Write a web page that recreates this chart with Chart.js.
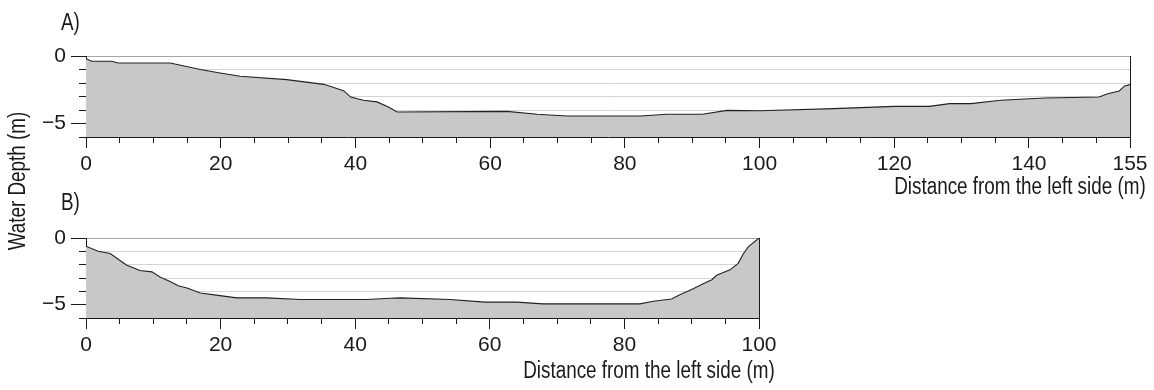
<!DOCTYPE html>
<html>
<head>
<meta charset="utf-8">
<script src="https://cdn.jsdelivr.net/npm/chart.js@4.4.0/dist/chart.umd.min.js"></script>
<style>
  html, body { margin: 0; padding: 0; background: #fff; }
  #wrap { position: relative; width: 1154px; height: 390px; }
  canvas { position: absolute; left: 0; top: 0; }
</style>
</head>
<body>
<div id="wrap">
  <canvas id="chartA" width="1154" height="390"></canvas>
  <canvas id="chartB" width="1154" height="390"></canvas>
</div>
<script>
// profile A: distance (m) and water depth (m)
var distA = [0, 0.85, 3.8, 4.8, 12.5, 17, 19.9, 22.9, 29.8, 35.3, 36.8, 38.3, 39.3, 41.2, 43.2, 44.9, 46.2,
  62.5, 67, 71.4, 82.3, 86.3, 91.5, 95.2, 100.1, 111, 120, 125.2, 128.2, 131.4, 135.8, 142.3, 150.4,
  151.7, 153.4, 154.2, 155];
var depthA = [-0.2, -0.39, -0.39, -0.52, -0.52, -1.0, -1.26, -1.5, -1.75, -2.1, -2.34, -2.59, -3.04, -3.28, -3.4, -3.78, -4.15,
  -4.1, -4.32, -4.44, -4.44, -4.32, -4.32, -4.03, -4.05, -3.9, -3.73, -3.73, -3.53, -3.53, -3.28, -3.11, -3.04,
  -2.79, -2.59, -2.22, -2.12];

// profile B
var distB = [0, 1.8, 3.6, 6.0, 8.0, 9.8, 11.0, 12.5, 13.7, 15, 17, 19.9, 22.4, 26.9, 31.8, 41.7, 45.2, 46.7,
  54.1, 59.3, 64, 67.9, 82.3, 84.3, 87, 88.3, 90.0, 91.7, 93.0, 93.7, 95.7, 96.9, 97.7, 98.4, 100];
var depthB = [-0.61, -0.99, -1.16, -2.02, -2.44, -2.54, -2.93, -3.26, -3.58, -3.75, -4.12, -4.32, -4.49, -4.49, -4.61, -4.61, -4.52, -4.49,
  -4.61, -4.81, -4.81, -4.94, -4.94, -4.74, -4.57, -4.24, -3.87, -3.43, -3.13, -2.8, -2.39, -1.9, -1.16, -0.67, 0];

var xLabelsA = [0, 20, 40, 60, 80, 100, 120, 140, 155];
var xLabelsB = [0, 20, 40, 60, 80, 100];
var yLabels = [0, -5];

var xTitle = 'Distance from the left side (m)';
var yTitle = 'Water Depth (m)';

// the original uses a narrow face; fake it with a horizontal squeeze where we draw text ourselves
function hasFont(name) {
  var c = document.createElement('canvas').getContext('2d');
  var s = 'Distance from the left side';
  c.font = '40px monospace';
  var w1 = c.measureText(s).width;
  c.font = '40px "' + name + '", monospace';
  return c.measureText(s).width !== w1;
}
var narrow = hasFont('Liberation Sans Narrow');
var family = narrow ? '"Liberation Sans Narrow", "Liberation Sans", Arial, sans-serif' : '"Liberation Sans", Arial, sans-serif';
var squeeze = narrow ? 1 : 0.82;
var tickSize = narrow ? 23 : 21;
var textSize = 23;

var ink = '#1a1a1a';

function squeezedText(ctx, str, x, y, align) {
  var w = ctx.measureText(str).width * squeeze;
  var left = align === 'right' ? x - w : (align === 'center' ? x - w / 2 : x);
  ctx.save();
  ctx.translate(left, y);
  ctx.scale(squeeze, 1);
  ctx.textAlign = 'left';
  ctx.fillText(str, 0, 0);
  ctx.restore();
}

var panelText = {
  id: 'panelText',
  afterDraw: function(chart, args, opts) {
    var ctx = chart.ctx;
    ctx.save();
    ctx.fillStyle = ink;
    ctx.textBaseline = 'middle';
    // right end of the last tick label (at the original narrow width), to line the axis title up with it
    ctx.font = textSize + 'px ' + family;
    var right = chart.scales.x.getPixelForValue(opts.lastLabel) + ctx.measureText(String(opts.lastLabel)).width * squeeze / 2;
    squeezedText(ctx, opts.letter, 61, opts.letterY, 'left');
    squeezedText(ctx, xTitle, right, opts.titleY, 'right');
    if (opts.showY) {
      ctx.translate(19, 181);
      ctx.rotate(-Math.PI / 2);
      squeezedText(ctx, yTitle, 0, 0, 'center');
    }
    ctx.restore();
  }
};

function makeChart(id, dist, depth, xMax, xLabels, padding, text) {
  var points = dist.map(function(d, i) { return {x: d, y: depth[i]}; });
  return new Chart(document.getElementById(id), {
    type: 'line',
    data: {
      datasets: [{
        data: points,
        xAxisID: 'x',
        yAxisID: 'y',
        fill: 'start',
        backgroundColor: '#c8c8c8',
        borderColor: '#222',
        borderWidth: 1.1,
        pointRadius: 0,
        tension: 0
      }]
    },
    options: {
      responsive: false,
      animation: false,
      devicePixelRatio: 1,
      layout: { padding: padding },
      plugins: {
        legend: { display: false },
        tooltip: { enabled: false },
        panelText: text
      },
      scales: {
        x: {
          type: 'linear', position: 'bottom', weight: 1,
          min: 0, max: xMax,
          afterBuildTicks: function(s) { s.ticks = xLabels.map(function(v) { return {value: v}; }); },
          afterFit: function(s) { s.height = 40; },
          grid: {
            color: function(c) { return c.tick && c.tick.value === xMax ? ink : 'rgba(0,0,0,0)'; },
            tickColor: ink, tickLength: 11, lineWidth: 1
          },
          border: { color: ink, width: 1 },
          ticks: {
            autoSkip: false, maxRotation: 0, padding: 4, color: ink,
            font: { family: family, size: tickSize },
            callback: function(v) { return String(v); }
          }
        },
        xMinor: {
          type: 'linear', position: 'bottom', weight: 0,
          min: 0, max: xMax,
          afterFit: function(s) { s.height = 0; },
          ticks: { stepSize: 5, display: false },
          grid: { drawOnChartArea: false, tickColor: ink, tickLength: 6 },
          border: { display: false }
        },
        y: {
          type: 'linear', position: 'left', weight: 0,
          min: -6, max: 0,
          afterFit: function(s) { s.width = 0; },
          ticks: { stepSize: 1, display: false },
          grid: {
            color: function(c) {
              if (!c.tick) return 'rgba(0,0,0,0)';
              if (c.tick.value === 0) return '#a6a6a6';
              if (c.tick.value === -6) return 'rgba(0,0,0,0)';
              return '#d4d4d4';
            },
            tickColor: ink, tickLength: 7
          },
          border: { color: ink, width: 1 }
        },
        yMajor: {
          type: 'linear', position: 'left', weight: 1,
          min: -6, max: 0,
          afterBuildTicks: function(s) { s.ticks = yLabels.map(function(v) { return {value: v}; }); },
          afterFit: function(s) { s.width = 86; },
          grid: { drawOnChartArea: false, tickColor: ink, tickLength: 15 },
          border: { display: false },
          ticks: {
            padding: 5, color: ink,
            font: { family: family, size: tickSize },
            callback: function(v) { return v < 0 ? '\u2212' + Math.abs(v) : String(v); }
          }
        }
      }
    },
    plugins: [panelText]
  });
}

makeChart('chartA', distA, depthA, 155, xLabelsA,
  { top: 56, left: 0, right: 24, bottom: 213 },
  { letter: 'A)', letterY: 24, lastLabel: 155, titleY: 188, showY: true });

makeChart('chartB', distB, depthB, 100, xLabelsB,
  { top: 238, left: 0, right: 395, bottom: 32 },
  { letter: 'B)', letterY: 204, lastLabel: 100, titleY: 372, showY: false });
</script>
</body>
</html>
